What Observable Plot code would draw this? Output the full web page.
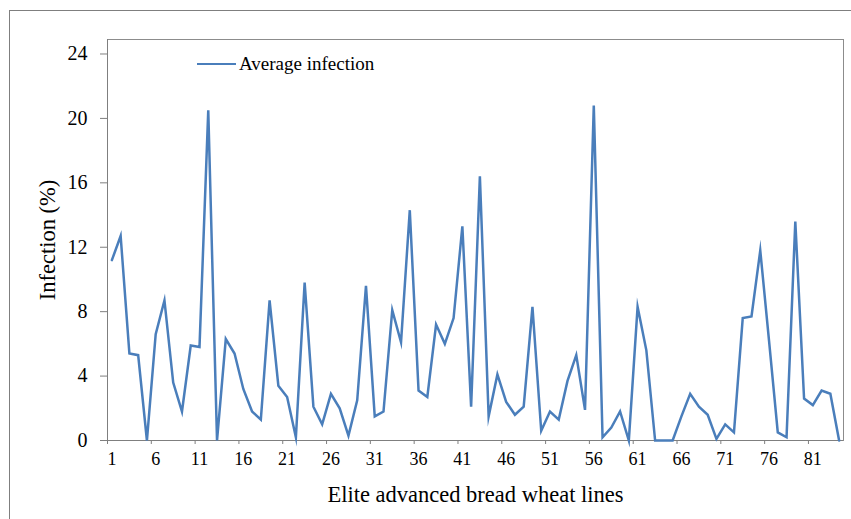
<!DOCTYPE html>
<html>
<head>
<meta charset="utf-8">
<script src="https://cdn.jsdelivr.net/npm/d3@7"></script>
<script src="https://cdn.jsdelivr.net/npm/@observablehq/plot@0.6"></script>
<style>
  html, body { margin: 0; padding: 0; background: #fff; }
  #wrap { position: relative; width: 851px; height: 519px; overflow: hidden; }
  #border { position: absolute; left: 9px; top: 10px; width: 900px; height: 600px; border: 1px solid #7f7f7f; box-sizing: border-box; pointer-events: none; }
  #legend { position: absolute; left: 197px; top: 53px; font: 19px "Liberation Serif", "Times New Roman", serif; color: #000; display: flex; align-items: center; white-space: nowrap; }
  #legend .sw { width: 39px; height: 0; border-top: 2.5px solid #4a7ebb; margin-right: 3px; }
  svg text { font-family: "Liberation Serif", "Times New Roman", serif; }
</style>
</head>
<body>
<div id="wrap">
  <div id="chart"></div>
  <div id="legend"><span class="sw"></span><span>Average infection</span></div>
  <div id="border"></div>
</div>
<script>
const lines = [1,2,3,4,5,6,7,8,9,10,11,12,13,14,15,16,17,18,19,20,21,22,23,24,25,26,27,28,29,30,31,32,33,34,35,36,37,38,39,40,41,42,43,44,45,46,47,48,49,50,51,52,53,54,55,56,57,58,59,60,61,62,63,64,65,66,67,68,69,70,71,72,73,74,75,76,77,78,79,80,81,82,83,84];
const infection = [11.2,12.7,5.4,5.3,0,6.6,8.7,3.6,1.8,5.9,5.8,20.5,0,6.3,5.4,3.2,1.8,1.3,8.7,3.4,2.7,0.2,9.8,2.1,1.0,2.9,2.0,0.3,2.5,9.6,1.5,1.8,8.1,6.1,14.3,3.1,2.7,7.2,6.0,7.6,13.3,2.1,16.4,1.5,4.1,2.4,1.6,2.1,8.3,0.6,1.8,1.3,3.7,5.3,1.9,20.8,0.2,0.8,1.8,0,8.3,5.6,0,0,0,1.5,2.9,2.1,1.6,0.1,1.0,0.5,7.6,7.7,11.8,6.2,0.5,0.2,13.6,2.6,2.2,3.1,2.9,0];
const xTickLabels = [1,6,11,16,21,26,31,36,41,46,51,56,61,66,71,76,81];
const yTicks = [0,4,8,12,16,20,24];
const seriesName = "Average infection";
const xTitle = "Elite advanced bread wheat lines";
const yTitle = "Infection (%)";

const data = lines.map((l, i) => ({line: l, value: infection[i]}));
const xTickMarks = xTickLabels.map(d => d - 0.5);

const chart = Plot.plot({
  width: 851,
  height: 519,
  marginLeft: 107,
  marginRight: 8,
  marginTop: 39,
  marginBottom: 79,
  style: {fontFamily: '"Liberation Serif", "Times New Roman", serif', color: "#000", background: "transparent"},
  x: {type: "linear", domain: [0.5, 84.5]},
  y: {domain: [0, 24.9]},
  marks: [
    Plot.frame({stroke: "#8c8c8c", strokeWidth: 1}),
    Plot.axisY({ticks: yTicks, tickSize: 7, tickPadding: 13, fontSize: 20, stroke: "#7f7f7f", label: null, tickFormat: d => d}),
    Plot.axisX({ticks: xTickMarks, tickSize: 4, tickFormat: () => "", stroke: "#7f7f7f", label: null}),
    Plot.axisX({ticks: xTickLabels, tickSize: 0, tickPadding: 12, fontSize: 18, label: null, tickFormat: d => d}),
    Plot.ruleY([0], {stroke: "#7f7f7f"}),
    Plot.ruleX([0.5], {stroke: "#7f7f7f"}),
    Plot.lineY(data, {x: "line", y: "value", stroke: "#4a7ebb", strokeWidth: 2.5, strokeLinejoin: "miter", strokeMiterlimit: 10}),
    Plot.text([xTitle], {frameAnchor: "bottom", textAnchor: "middle", lineAnchor: "middle", dy: 54, fontSize: 22.5, fill: "#000"}),
    Plot.text([yTitle], {frameAnchor: "left", textAnchor: "middle", lineAnchor: "middle", dx: -60, rotate: -90, fontSize: 22.5, fill: "#000"})
  ]
});
document.getElementById("chart").appendChild(chart);
</script>
</body>
</html>
